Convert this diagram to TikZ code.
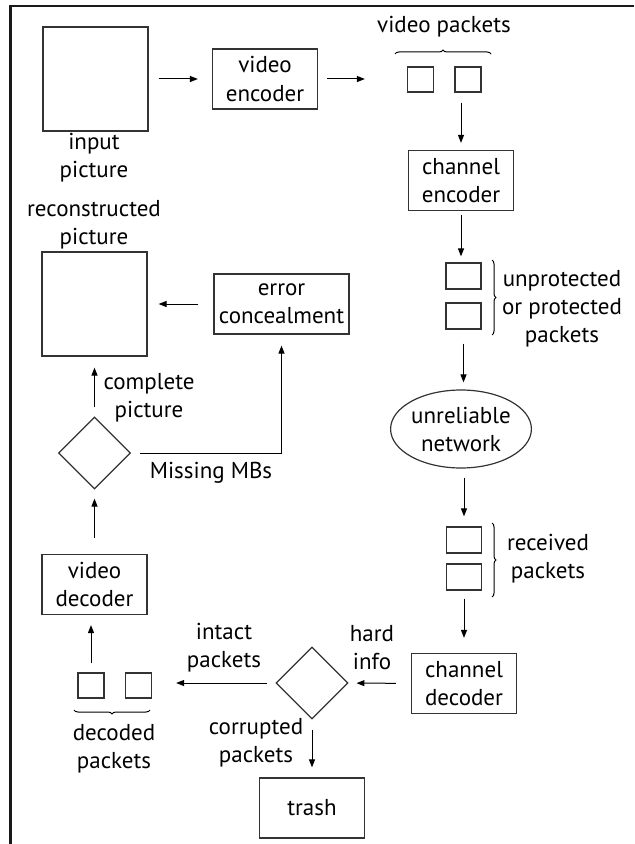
\documentclass[tikz,border=0pt]{standalone}
\usepackage{fontspec}
\setmainfont{PT Sans}
\usepackage{tikz}
\usetikzlibrary{shapes.geometric,arrows.meta,decorations.pathreplacing}

\tikzset{
  blk/.style={draw=black!80, line width=0.6pt, minimum width=52.5pt, minimum height=30pt, align=center, inner sep=0pt},
  frm/.style={draw=black!80, line width=0.6pt, minimum width=52.5pt, minimum height=52pt, inner sep=0pt},
  pkt/.style={draw=black!80, line width=0.6pt, minimum width=13pt, minimum height=12.5pt, inner sep=0pt},
  bigpkt/.style={pkt, minimum width=17.5pt, minimum height=13pt},
  decide/.style={diamond, draw=black!80, line width=0.6pt, minimum width=36pt, minimum height=36pt, inner sep=0pt},
  cloudnet/.style={ellipse, draw=black!80, line width=0.6pt, minimum width=61pt, minimum height=39pt, inner sep=0pt, align=center},
  lbl/.style={align=center, inner sep=0pt},
  arr/.style={-{Triangle[length=4pt,width=3pt]}, line width=0.5pt},
  brc/.style={decorate, decoration={brace, amplitude=2pt}, line width=0.5pt},
}

\begin{document}
\begin{tikzpicture}[x=0.5pt, y=-0.5pt, font=\fontsize{11.5}{14}\selectfont]
    \useasboundingbox (0,0) rectangle (634,844);

    % Frame
    \draw[line width=1pt, black!90] (634,6) -- (9,6);
    \draw[line width=1.6pt, black!90] (10.5,5.5) -- (10.5,844);

    % Sender side
    \node[frm] (inpic) at (95.5,79) {};
    \node[lbl] (inlbl) at (94,158) {input\\picture};
    \node[blk] (venc) at (265,79) {video\\encoder};
    \node[pkt] (vp1) at (420.5,79.5) {};
    \node[pkt] (vp2) at (468,79.5) {};
    \node[lbl] (vplbl) at (444,27) {video packets};
    \node[blk] (cenc) at (461,180.5) {channel\\encoder};
    \node[bigpkt] (up1) at (463.5,276) {};
    \node[bigpkt] (up2) at (463.5,316) {};
    \node[lbl] (uplbl) at (562,309) {unprotected\\or protected\\packets};

    % Network
    \node[cloudnet] (net) at (461,429) {unreliable\\network};

    % Receiver side
    \node[bigpkt] (rp1) at (464,540) {};
    \node[bigpkt] (rp2) at (464,577) {};
    \node[lbl] (rplbl) at (548,559) {received\\packets};
    \node[blk] (cdec) at (464,683.5) {channel\\decoder};
    \node[decide] (chk) at (312,683) {};
    \node[blk] (trash) at (312,808) {trash};
    \node[pkt] (dp1) at (91,685.5) {};
    \node[pkt] (dp2) at (138.5,685.5) {};
    \node[lbl] (dplbl) at (114,748.5) {decoded\\packets};
    \node[blk] (vdec) at (94.5,584.5) {video\\decoder};
    \node[decide] (full) at (94.5,453) {};
    \node[frm] (recpic) at (94.5,304) {};
    \node[lbl] (reclbl) at (94,225) {reconstructed\\picture};
    \node[blk, minimum width=67.5pt] (conceal) at (281.5,304) {error\\concealment};

    % Arrow labels
    \node[lbl] (hardlbl) at (372,647.5) {hard\\info};
    \node[lbl] (intactlbl) at (224,647.5) {intact\\packets};
    \node[lbl] (corrlbl) at (256,742.5) {corrupted\\packets};
    \node[lbl] (complbl) at (149,398) {complete\\picture};
    \node[lbl] (misslbl) at (211,473) {Missing MBs};

    % Braces
    \draw[brc] (395,54) -- (491,54);
    \draw[brc] (492,260) -- (492,335);
    \draw[brc] (492,523) -- (492,597);
    \draw[brc] (150,710) -- (74,710);

    % Arrows
    \draw[arr, shorten <=5pt, shorten >=7pt] (inpic) -- (venc);
    \draw[arr, shorten <=4.5pt, shorten >=21pt] (venc.east) -- (venc.east -| vp1.west);
    \draw[arr, shorten <=5pt, shorten >=3.5pt] (vp2.south -| cenc.north) -- (cenc.north);
    \draw[arr, shorten <=2pt, shorten >=3pt] (cenc.south) -- (cenc.south |- up1.north);
    \draw[arr, shorten <=7pt, shorten >=3.5pt] (up2.south) -- (up2.south |- net.north);
    \draw[arr, shorten <=4.5pt, shorten >=5pt] (net.south -| rp1) -- (rp1.north);
    \draw[arr, shorten <=4pt, shorten >=7.5pt] (rp2.south) -- (cdec.north);
    \draw[arr, shorten <=7.5pt, shorten >=4pt] (cdec) -- (chk);
    \draw[arr, shorten <=4pt, shorten >=12pt] (chk.west) -- (chk.west -| dp2.east);
    \draw[arr, shorten <=5pt, shorten >=5pt] (chk) -- (trash);
    \draw[arr, shorten <=4.5pt, shorten >=5pt] (dp1.north) -- (dp1.north |- vdec.south);
    \draw[arr, shorten <=8pt, shorten >=4.5pt] (vdec) -- (full);
    \draw[arr, shorten <=4.5pt, shorten >=5.5pt] (full) -- (recpic);
    \draw[arr, shorten <=7.5pt, shorten >=5.5pt] (conceal) -- (recpic);
    \draw[arr, shorten <=4.5pt, shorten >=5.5pt] (full.east) -| (conceal.south);
\end{tikzpicture}
\end{document}
